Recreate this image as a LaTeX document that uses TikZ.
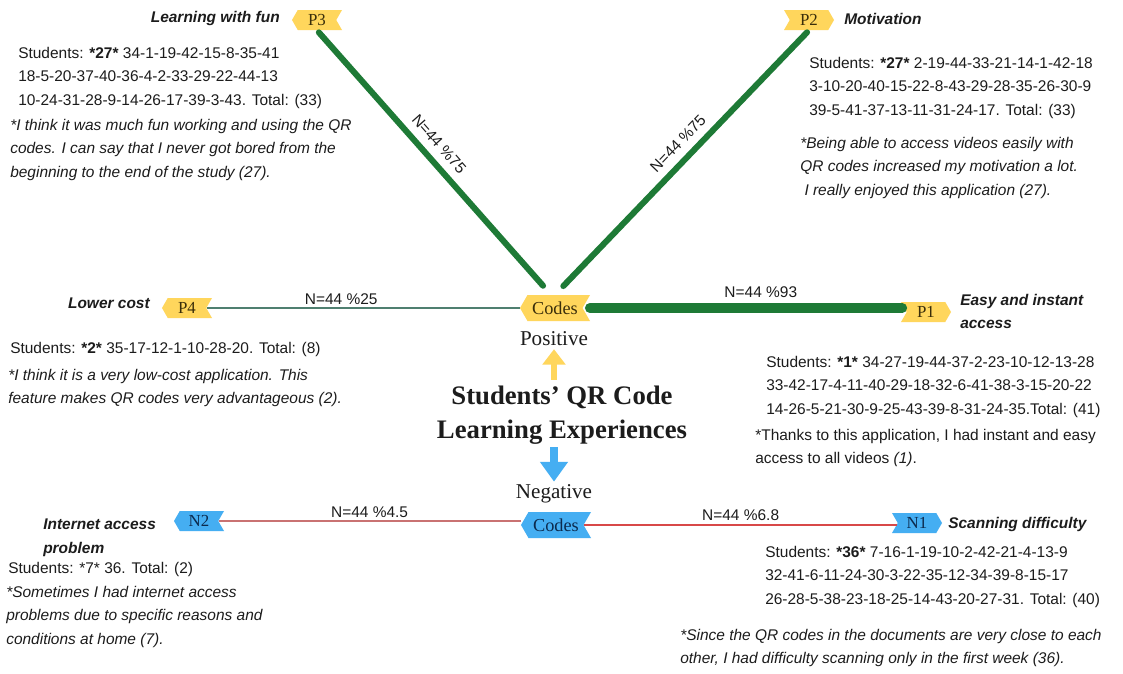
\documentclass[tikz,border=0pt]{standalone}
\usepackage{fontspec}
\setmainfont{Liberation Sans}
\newfontfamily\tagfont{Liberation Serif}
\definecolor{qryellow}{HTML}{FFD65C}
\definecolor{qrblue}{HTML}{45AEF2}
\definecolor{qrgreen}{HTML}{1E7A36}
\definecolor{qrred}{HTML}{D84848}
\definecolor{qrrose}{HTML}{C97272}
\definecolor{qrteal}{HTML}{4F7F70}
\definecolor{tagbrown}{HTML}{3A2E0A}
\definecolor{tagnavy}{HTML}{0C2A4D}
\definecolor{txtdark}{HTML}{1C1C1C}
\usetikzlibrary{arrows.meta, shapes.symbols}

\begin{document}
\begin{tikzpicture}[x=0.025cm, y=-0.025cm,
  tag/.style={signal, signal pointer angle=120, minimum width=1.25cm, minimum height=0.5cm,
              inner sep=1pt, font=\tagfont\fontsize{12}{12}\selectfont},
  toleft/.style={signal to=west, signal from=east},
  toright/.style={signal to=east, signal from=west},
  ptag/.style={tag, fill=qryellow, text=tagbrown},
  ntag/.style={tag, fill=qrblue, text=tagnavy},
  codes/.style={minimum width=1.75cm, minimum height=0.65cm, font=\tagfont\fontsize{13}{13}\selectfont},
  theme/.style={inner sep=0pt, align=left, text=txtdark, font=\bfseries\itshape\fontsize{11}{16.7}\selectfont},
  info/.style={inner sep=0pt, align=left, anchor=north west, text=txtdark, font=\fontsize{11}{16.7}\selectfont},
  quote/.style={info, font=\itshape\fontsize{11}{16.7}\selectfont},
  stat/.style={font=\fontsize{11}{11}\selectfont, text=txtdark, above, inner sep=2pt},
  gline/.style={qrgreen, line width=4.3pt, line cap=round},
  bigarrow/.style={line width=4.5pt, -{Triangle[length=11pt, width=16pt]}}
]
  \path[use as bounding box, fill=white] (0,0) rectangle (1123,673);

  % Tags
  \node[ptag, toleft] (p3) at (317,20) {P3};
  \node[ptag, toright] (p2) at (809,20) {P2};
  \node[ptag, toleft] (p4) at (187,308) {P4};
  \node[ptag, toright] (p1) at (926,312) {P1};
  \node[ptag, codes, toleft] (pc) at (555,308) {Codes};
  \node[ntag, codes, toleft] (nc) at (556,525) {Codes};
  \node[ntag, toleft] (n2) at (199,521) {N2};
  \node[ntag, toright] (n1) at (917,523) {N1};

  % Centre
  \node[font=\tagfont\fontsize{15}{15}\selectfont, text=txtdark, inner sep=2pt] (pos) at (554,339) {Positive};
  \node[font=\tagfont\bfseries\fontsize{19}{24.2}\selectfont, text=txtdark, align=center, inner sep=2pt]
    (title) at (562,415) {Students’ QR Code\\Learning Experiences};
  \node[font=\tagfont\fontsize{15}{15}\selectfont, text=txtdark, inner sep=2pt] (neg) at (554,494) {Negative};
  \draw[bigarrow, qryellow, shorten <=2pt] (pos.south |- title.north) -- (pos.south);
  \draw[bigarrow, qrblue, line width=5.5pt, -{Triangle[length=14pt, width=19pt]}]
    (neg.north |- title.south) -- (neg.north);

  % Lines
  \draw[gline, shorten <=2pt, shorten >=0.3cm] (p3.south) -- ([xshift=-0.1cm]pc.north)
    node[stat, sloped, pos=0.47, inner sep=5.5pt] {N=44 \%75};
  \draw[gline, shorten <=2pt, shorten >=0.3cm] (p2.south) -- (pc.north)
    node[stat, sloped, pos=0.47, inner sep=5.5pt] {N=44 \%75};
  \draw[qrgreen, line width=7pt, line cap=round, shorten <=5pt, shorten >=3pt]
    (pc.east) -- (pc.east -| p1.west) node[stat, pos=0.55, yshift=2pt] {N=44 \%93};
  \draw[qrteal, line width=0.9pt] (p4.east) -- (p4.east -| pc.west)
    node[stat, pos=0.43] {N=44 \%25};
  \draw[qrrose, line width=0.9pt] (n2.east) -- (n2.east -| nc.west)
    node[stat, midway] {N=44 \%4.5};
  \draw[qrred, line width=2pt] (nc.east) -- (nc.east -| n1.west)
    node[stat, midway] {N=44 \%6.8};

  % P3
  \node[theme, anchor=north east] (t3) at (280,11) {Learning with fun};
  \node[info] (s3) at (18,47) {Students: \textbf{*27*} 34-1-19-42-15-8-35-41\\
    18-5-20-37-40-36-4-2-33-29-22-44-13\\10-24-31-28-9-14-26-17-39-3-43. Total: (33)};
  \node[quote] (q3) at (10,119) {*I think it was much fun working and using the QR\\
    codes. I can say that I never got bored from the\\beginning to the end of the study (27).};

  % P2
  \node[theme, anchor=north west] (t2) at (844,13) {Motivation};
  \node[info] (s2) at (809,57) {Students: \textbf{*27*} 2-19-44-33-21-14-1-42-18\\
    3-10-20-40-15-22-8-43-29-28-35-26-30-9\\39-5-41-37-13-11-31-24-17. Total: (33)};
  \node[quote] (q2) at (800,137) {*Being able to access videos easily with\\
    QR codes increased my motivation a lot.\\\hspace*{3pt}I really enjoyed this application (27).};

  % P4
  \node[theme, anchor=north east] (t4) at (150,298) {Lower cost};
  \node[info] (s4) at (10,342) {Students: \textbf{*2*} 35-17-12-1-10-28-20. Total: (8)};
  \node[quote] (q4) at (8,369) {*I think it is a very low-cost application. This\\
    feature makes QR codes very advantageous (2).};

  % P1
  \node[theme, anchor=north west] (t1) at (960,294) {Easy and instant\\access};
  \node[info] (s1) at (766,356) {Students: \textbf{*1*} 34-27-19-44-37-2-23-10-12-13-28\\
    33-42-17-4-11-40-29-18-32-6-41-38-3-15-20-22\\14-26-5-21-30-9-25-43-39-8-31-24-35.Total: (41)};
  \node[info] (q1) at (755,429) {*Thanks to this application, I had instant and easy\\
    access to all videos \textit{(1)}.};

  % N2
  \node[theme, anchor=north west] (u2) at (43,519) {Internet access\\problem};
  \node[info] (r2) at (8,562) {Students: *7* 36. Total: (2)};
  \node[quote] (w2) at (6,586) {*Sometimes I had internet access\\
    problems due to specific reasons and\\conditions at home (7).};

  % N1
  \node[theme, anchor=north west] (u1) at (948,517) {Scanning difficulty};
  \node[info] (r1) at (765,546) {Students: \textbf{*36*} 7-16-1-19-10-2-42-21-4-13-9\\
    32-41-6-11-24-30-3-22-35-12-34-39-8-15-17\\26-28-5-38-23-18-25-14-43-20-27-31. Total: (40)};
  \node[quote] (w1) at (680,629) {*Since the QR codes in the documents are very close to each\\
    other, I had difficulty scanning only in the first week (36).};
\end{tikzpicture}
\end{document}
